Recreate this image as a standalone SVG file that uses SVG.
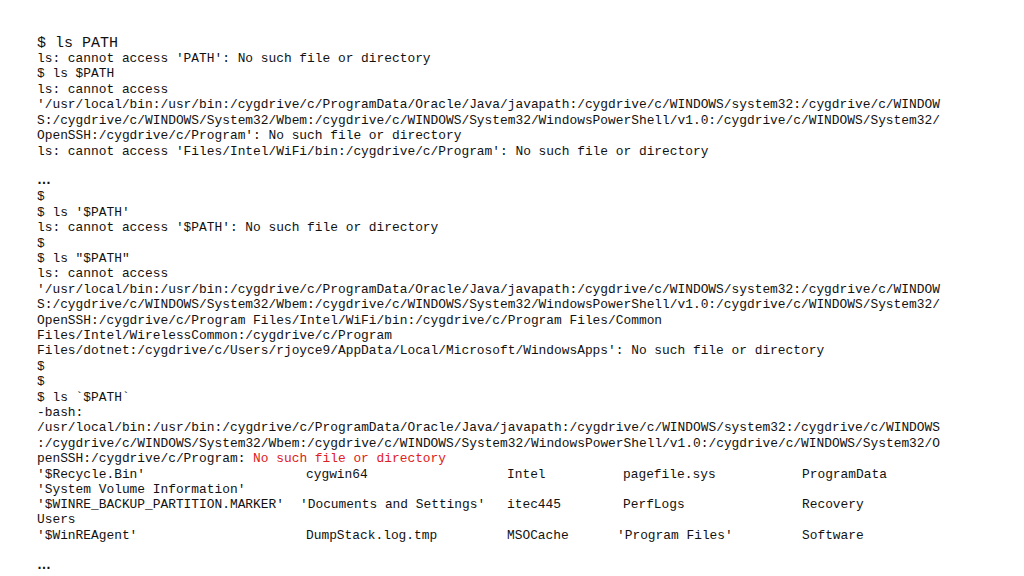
<svg xmlns="http://www.w3.org/2000/svg" width="1024" height="576" viewBox="0 0 1024 576">
<style>
text{font-family:"Liberation Mono","DejaVu Sans Mono",monospace;font-size:12.87px;fill:#111;white-space:pre}
.big{font-size:15px}
.red{fill:#e02020}
.dots{font-family:"Liberation Sans",sans-serif;font-weight:bold;font-size:14px}
</style>
<rect width="1024" height="576" fill="#fff"/>
<g id="terminal">
<text class="big" x="37" y="47">$ ls PATH</text>
<text x="37" y="62">ls: cannot access 'PATH': No such file or directory</text>
<text x="37" y="77">$ ls $PATH</text>
<text x="37" y="93">ls: cannot access</text>
<text x="37" y="108">'/usr/local/bin:/usr/bin:/cygdrive/c/ProgramData/Oracle/Java/javapath:/cygdrive/c/WINDOWS/system32:/cygdrive/c/WINDOW</text>
<text x="37" y="124">S:/cygdrive/c/WINDOWS/System32/Wbem:/cygdrive/c/WINDOWS/System32/WindowsPowerShell/v1.0:/cygdrive/c/WINDOWS/System32/</text>
<text x="37" y="139">OpenSSH:/cygdrive/c/Program': No such file or directory</text>
<text x="37" y="155">ls: cannot access 'Files/Intel/WiFi/bin:/cygdrive/c/Program': No such file or directory</text>
<text class="dots" x="37" y="184">…</text>
<text x="37" y="200">$</text>
<text x="37" y="216">$ ls '$PATH'</text>
<text x="37" y="231">ls: cannot access '$PATH': No such file or directory</text>
<text x="37" y="247">$</text>
<text x="37" y="262">$ ls "$PATH"</text>
<text x="37" y="277">ls: cannot access</text>
<text x="37" y="293">'/usr/local/bin:/usr/bin:/cygdrive/c/ProgramData/Oracle/Java/javapath:/cygdrive/c/WINDOWS/system32:/cygdrive/c/WINDOW</text>
<text x="37" y="308">S:/cygdrive/c/WINDOWS/System32/Wbem:/cygdrive/c/WINDOWS/System32/WindowsPowerShell/v1.0:/cygdrive/c/WINDOWS/System32/</text>
<text x="37" y="324">OpenSSH:/cygdrive/c/Program Files/Intel/WiFi/bin:/cygdrive/c/Program Files/Common</text>
<text x="37" y="339">Files/Intel/WirelessCommon:/cygdrive/c/Program</text>
<text x="37" y="354">Files/dotnet:/cygdrive/c/Users/rjoyce9/AppData/Local/Microsoft/WindowsApps': No such file or directory</text>
<text x="37" y="370">$</text>
<text x="37" y="385">$</text>
<text x="37" y="401">$ ls `$PATH`</text>
<text x="37" y="416">-bash:</text>
<text x="37" y="431" textLength="903" lengthAdjust="spacingAndGlyphs">/usr/local/bin:/usr/bin:/cygdrive/c/ProgramData/Oracle/Java/javapath:/cygdrive/c/WINDOWS/system32:/cygdrive/c/WINDOWS</text>
<text x="37" y="447" textLength="903" lengthAdjust="spacingAndGlyphs">:/cygdrive/c/WINDOWS/System32/Wbem:/cygdrive/c/WINDOWS/System32/WindowsPowerShell/v1.0:/cygdrive/c/WINDOWS/System32/O</text>
<text x="37" y="462">penSSH:/cygdrive/c/Program: <tspan class="red">No such file or directory</tspan></text>
<text x="37" y="478">'$Recycle.Bin'</text><text x="306" y="478">cygwin64</text><text x="507" y="478">Intel</text><text x="623" y="478">pagefile.sys</text><text x="802" y="478">ProgramData</text>
<text x="37" y="493">'System Volume Information'</text>
<text x="37" y="508">'$WINRE_BACKUP_PARTITION.MARKER'</text><text x="300" y="508">'Documents and Settings'</text><text x="507" y="508">itec445</text><text x="623" y="508">PerfLogs</text><text x="802" y="508">Recovery</text>
<text x="37" y="523">Users</text>
<text x="37" y="539">'$WinREAgent'</text><text x="306" y="539">DumpStack.log.tmp</text><text x="507" y="539">MSOCache</text><text x="617" y="539">'Program Files'</text><text x="802" y="539">Software</text>
<text class="dots" x="37" y="569">…</text>
</g>
</svg>
